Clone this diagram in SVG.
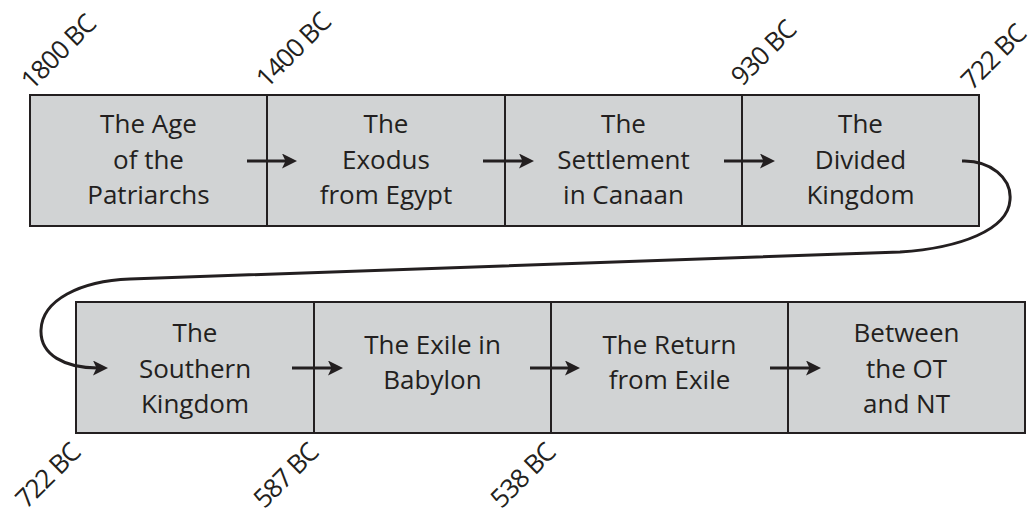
<svg xmlns="http://www.w3.org/2000/svg" width="1032" height="514" viewBox="0 0 1032 514">
<style>
.box{fill:#d1d3d4;stroke:#231f20;stroke-width:2}
.t{font-family:"Open Sans","Liberation Sans",sans-serif;font-size:26px;fill:#231f20;text-anchor:middle}
.d{font-family:"Open Sans","Liberation Sans",sans-serif;font-size:26px;letter-spacing:-1px;fill:#231f20}
.c{fill:none;stroke:#231f20;stroke-width:3}
</style>
<defs>
<marker id="ah" viewBox="0 0 15 15" refX="5" refY="7.5" markerWidth="15" markerHeight="15" orient="auto" markerUnits="userSpaceOnUse">
<path d="M0,0 L15,7.5 L0,15 L3.5,7.5 z" fill="#231f20"/>
</marker>
</defs>
<rect width="1032" height="514" fill="#fff"/>
<g id="n1"><rect class="box" x="30" y="95" width="237" height="131"/><text class="t" x="148.5" y="133">The Age</text><text class="t" x="148.5" y="168.5">of the</text><text class="t" x="148.5" y="204">Patriarchs</text></g>
<g id="n2"><rect class="box" x="267" y="95" width="238" height="131"/><text class="t" x="386" y="133">The</text><text class="t" x="386" y="168.5">Exodus</text><text class="t" x="386" y="204">from Egypt</text></g>
<g id="n3"><rect class="box" x="505" y="95" width="237" height="131"/><text class="t" x="623.5" y="133">The</text><text class="t" x="623.5" y="168.5">Settlement</text><text class="t" x="623.5" y="204">in Canaan</text></g>
<g id="n4"><rect class="box" x="742" y="95" width="237" height="131"/><text class="t" x="860.5" y="133">The</text><text class="t" x="860.5" y="168.5">Divided</text><text class="t" x="860.5" y="204">Kingdom</text></g>
<g id="n5"><rect class="box" x="76" y="302" width="238" height="131"/><text class="t" x="195" y="342">The</text><text class="t" x="195" y="377.5">Southern</text><text class="t" x="195" y="413">Kingdom</text></g>
<g id="n6"><rect class="box" x="314" y="302" width="237" height="131"/><text class="t" x="432.5" y="354">The Exile in</text><text class="t" x="432.5" y="389">Babylon</text></g>
<g id="n7"><rect class="box" x="551" y="302" width="237" height="131"/><text class="t" x="669.5" y="354">The Return</text><text class="t" x="669.5" y="389">from Exile</text></g>
<g id="n8"><rect class="box" x="788" y="302" width="237" height="131"/><text class="t" x="906.5" y="342">Between</text><text class="t" x="906.5" y="377.5">the OT</text><text class="t" x="906.5" y="413">and NT</text></g>
<g id="dates">
<text class="d" transform="translate(32,91) rotate(-45)">1800 BC</text>
<text class="d" transform="translate(267,89) rotate(-45)">1400 BC</text>
<text class="d" transform="translate(742,87) rotate(-45)">930 BC</text>
<text class="d" transform="translate(972,91) rotate(-45)">722 BC</text>
<text class="d" text-anchor="end" transform="translate(82,454) rotate(-45)">722 BC</text>
<text class="d" text-anchor="end" transform="translate(320,454) rotate(-45)">587 BC</text>
<text class="d" text-anchor="end" transform="translate(557,454) rotate(-45)">538 BC</text>
</g>
<g id="connectors">
<line class="c" x1="247" y1="161" x2="287" y2="161" marker-end="url(#ah)"/>
<line class="c" x1="483" y1="161" x2="524" y2="161" marker-end="url(#ah)"/>
<line class="c" x1="724" y1="161" x2="765" y2="161" marker-end="url(#ah)"/>
<line class="c" x1="292" y1="368" x2="333" y2="368" marker-end="url(#ah)"/>
<line class="c" x1="530" y1="368" x2="570" y2="368" marker-end="url(#ah)"/>
<line class="c" x1="770" y1="368" x2="811" y2="368" marker-end="url(#ah)"/>
<path class="c" d="M962,161 C990,160 1012,178 1010,200 C1008,230 960,248 900,252 L130,279 C80,281 42,300 41,330 C40,355 65,368 98,368" marker-end="url(#ah)"/>
</g>
</svg>
